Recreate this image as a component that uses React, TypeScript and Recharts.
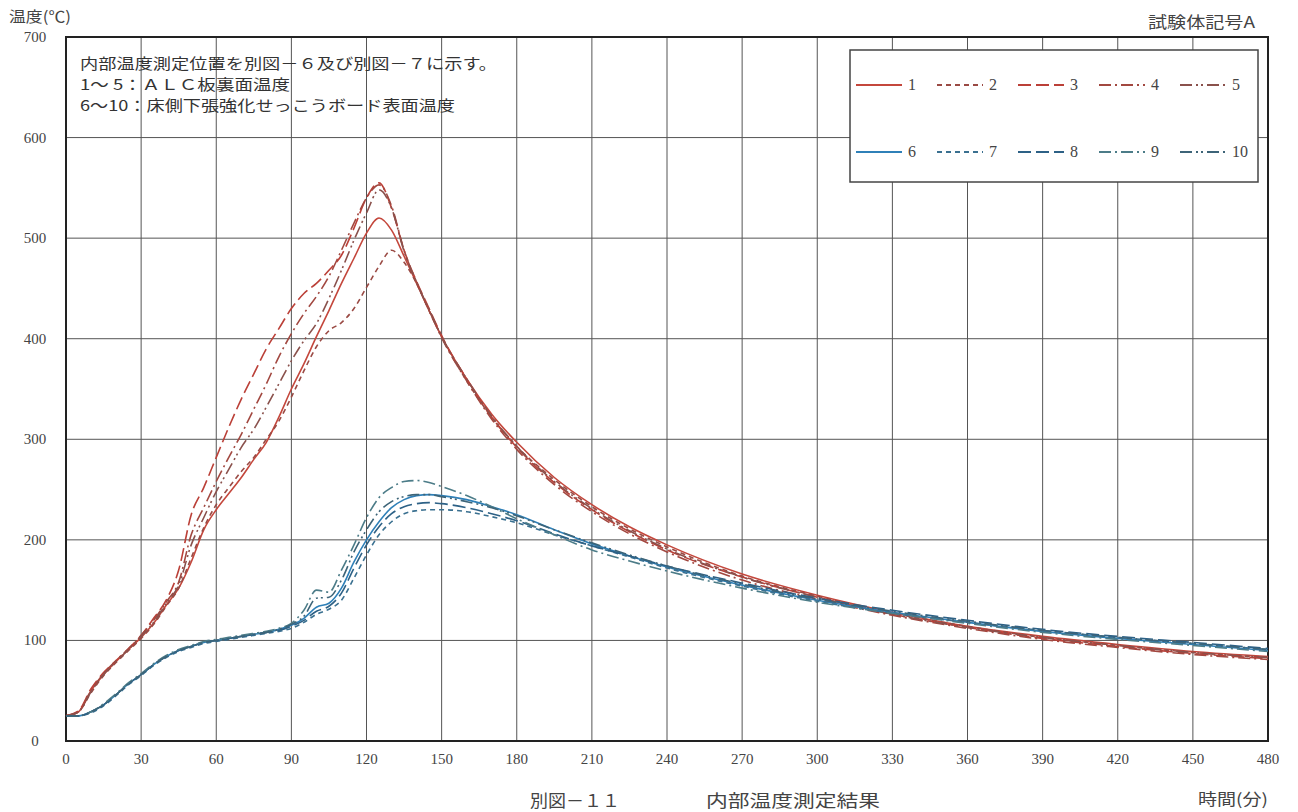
import React from "react";
import { LineChart, Line, XAxis, YAxis, CartesianGrid, ReferenceArea } from "recharts";

const times = [0,5,10,15,20,25,30,35,40,45,50,55,60,65,70,75,80,85,90,95,100,105,110,115,120,125,130,135,140,145,150,160,170,180,195,210,225,240,270,300,330,360,390,420,450,480];

// ALC板裏面温度 (1〜5)
const s1 = [25,29,50,66,79,91,103,117,135,152,178,210,230,246,262,280,297,322,350,375,402,428,455,480,505,520,508,482,455,428,402,360,325,297,262,235,213,195,166,145,128,114,104,96,89,84];
const s2 = [25,29,48,65,78,90,102,116,134,152,182,212,235,252,268,282,300,318,342,368,392,408,416,430,451,472,488,476,455,428,402,358,322,293,260,233,211,193,164,144,127,114,103,95,88,83];
const s3 = [25,30,52,68,80,92,105,122,140,170,225,252,282,312,340,365,390,410,430,445,455,468,483,510,540,555,530,488,457,430,403,360,322,292,257,230,208,190,163,143,126,113,102,94,87,82];
const s4 = [25,29,50,67,80,92,105,120,138,158,205,232,258,282,305,330,355,382,405,425,442,462,488,515,540,553,532,488,456,428,401,358,320,290,255,228,206,188,160,141,125,112,101,93,86,81];
const s5 = [25,29,49,66,79,91,104,118,137,155,195,222,248,270,292,310,332,355,378,398,415,440,468,498,525,548,530,487,456,429,402,360,323,293,258,231,209,191,163,143,126,113,103,95,88,83];

// 床側下張強化せっこうボード表面温度 (6〜10)
const s6 = [25,25,29,36,46,57,66,76,84,90,94,98,100,102,104,106,108,111,115,122,133,137,152,178,200,218,232,240,244,245,244,240,233,225,210,196,184,173,155,140,128,118,109,102,96,90];
const s7 = [25,25,28,35,45,56,65,75,83,89,93,97,99,101,103,105,107,109,112,118,126,131,140,162,185,205,218,226,229,230,230,228,223,217,205,194,183,172,154,139,127,118,110,103,97,91];
const s8 = [25,25,29,36,46,57,66,76,84,90,94,98,100,102,104,106,108,110,114,120,129,134,147,172,195,213,226,233,236,237,236,232,226,219,206,194,184,174,157,142,130,120,111,104,98,92];
const s9 = [25,25,29,37,47,58,67,77,85,91,95,99,101,103,105,107,109,112,117,130,150,148,170,195,222,242,252,258,259,257,253,244,233,221,205,190,179,169,152,138,127,117,108,101,95,89];
const s10 = [25,25,29,36,46,57,66,76,84,90,94,98,100,102,104,106,108,111,116,124,142,143,160,188,210,228,238,243,245,245,243,238,232,224,210,197,185,174,156,141,129,119,110,103,97,91];

const seriesValues = [s1, s2, s3, s4, s5, s6, s7, s8, s9, s10];
const seriesNames = ["1","2","3","4","5","6","7","8","9","10"];
const xTicks = [0,30,60,90,120,150,180,210,240,270,300,330,360,390,420,450,480];
const yTicks = [0,100,200,300,400,500,600,700];

const styles = [
  { color: "#c4473c", dash: undefined },
  { color: "#9a4a44", dash: "5 4" },
  { color: "#bb4038", dash: "13 5" },
  { color: "#a24840", dash: "12 4 2 4" },
  { color: "#8a514c", dash: "12 4 2 3 2 4" },
  { color: "#2f80b8", dash: undefined },
  { color: "#3a7090", dash: "5 4" },
  { color: "#2d6186", dash: "13 5" },
  { color: "#4c7c88", dash: "12 4 2 4" },
  { color: "#3d6478", dash: "12 4 2 3 2 4" },
];

const data = times.map((t, i) => {
  const row: Record<string, number> = { t };
  seriesNames.forEach((n, k) => {
    row["s" + n] = seriesValues[k][i];
  });
  return row;
});

const tickFont = "'Liberation Serif', 'DejaVu Serif', serif";
const jpFont = "'Noto Sans CJK JP', sans-serif";

const XTick = (props: any) => {
  const { x, y, payload } = props;
  return (
    <text x={x} y={y + 15} textAnchor="middle" fontFamily={tickFont} fontSize={15} fill="#444">
      {payload.value}
    </text>
  );
};

const YTick = (props: any) => {
  const { y, payload } = props;
  return (
    <text x={35} y={y + 5} textAnchor="middle" fontFamily={tickFont} fontSize={15} fill="#444">
      {payload.value}
    </text>
  );
};

export default function App() {
  const legendX0 = 856;
  const legendStep = 81;
  return (
    <div style={{ position: "absolute", left: 0, top: 0, width: 1298, height: 812, background: "#fff" }}>
      <LineChart
        width={1298}
        height={812}
        data={data}
        margin={{ top: 37, right: 30, bottom: 41, left: 0 }}
      >
        <CartesianGrid stroke="#555" strokeWidth={1} />
        <XAxis
          dataKey="t"
          type="number"
          domain={[0, 480]}
          ticks={xTicks}
          tick={<XTick />}
          tickLine={false}
          axisLine={false}
          height={30}
          interval={0}
        />
        <YAxis
          type="number"
          domain={[0, 700]}
          ticks={yTicks}
          tick={<YTick />}
          tickLine={false}
          axisLine={false}
          width={66}
          interval={0}
        />
        {seriesNames.map((n, k) => (
          <Line
            key={n}
            dataKey={"s" + n}
            type="monotone"
            stroke={styles[k].color}
            strokeDasharray={styles[k].dash}
            strokeWidth={1.6}
            dot={false}
            isAnimationActive={false}
          />
        ))}
        <ReferenceArea x1={0} x2={480} y1={0} y2={700} fill="none" stroke="#222" strokeWidth={2} ifOverflow="visible" />
      </LineChart>
      <svg width={1298} height={812} style={{ position: "absolute", left: 0, top: 0, pointerEvents: "none" }}>
        <text x={9} y={22} fontFamily={jpFont} fontSize={15} fill="#444" textLength={62} lengthAdjust="spacingAndGlyphs">温度(℃)</text>
        <text x={1148} y={28} fontFamily={jpFont} fontSize={16} fill="#444" textLength={107} lengthAdjust="spacingAndGlyphs">試験体記号A</text>
        <text x={80} y={69} fontFamily={jpFont} fontSize={15} fill="#333" textLength={417} lengthAdjust="spacingAndGlyphs">内部温度測定位置を別図－６及び別図－７に示す。</text>
        <text x={80} y={90} fontFamily={jpFont} fontSize={15} fill="#333" textLength={210} lengthAdjust="spacingAndGlyphs">1～ 5：ＡＬＣ板裏面温度</text>
        <text x={80} y={111} fontFamily={jpFont} fontSize={15} fill="#333" textLength={375} lengthAdjust="spacingAndGlyphs">6～10：床側下張強化せっこうボード表面温度</text>
        <rect x={850} y={50} width={408} height={132} fill="#fff" stroke="#444" strokeWidth={1.5} />
        {seriesNames.map((n, k) => {
          const row = k < 5 ? 0 : 1;
          const col = k % 5;
          const x = legendX0 + col * legendStep;
          const y = row === 0 ? 85 : 152;
          return (
            <g key={n}>
              <line x1={x} y1={y} x2={x + 46} y2={y} stroke={styles[k].color} strokeWidth={1.8} strokeDasharray={styles[k].dash} />
              <text x={x + 52} y={y + 5} fontFamily={tickFont} fontSize={16} fill="#444">{n}</text>
            </g>
          );
        })}
        <text x={530} y={807} fontFamily={jpFont} fontSize={17} fill="#444" textLength={90} lengthAdjust="spacingAndGlyphs">別図－１１</text>
        <text x={706} y={807} fontFamily={jpFont} fontSize={17} fill="#444" textLength={174} lengthAdjust="spacingAndGlyphs">内部温度測定結果</text>
        <text x={1198} y={805} fontFamily={jpFont} fontSize={16} fill="#444" textLength={70} lengthAdjust="spacingAndGlyphs">時間(分)</text>
      </svg>
    </div>
  );
}
